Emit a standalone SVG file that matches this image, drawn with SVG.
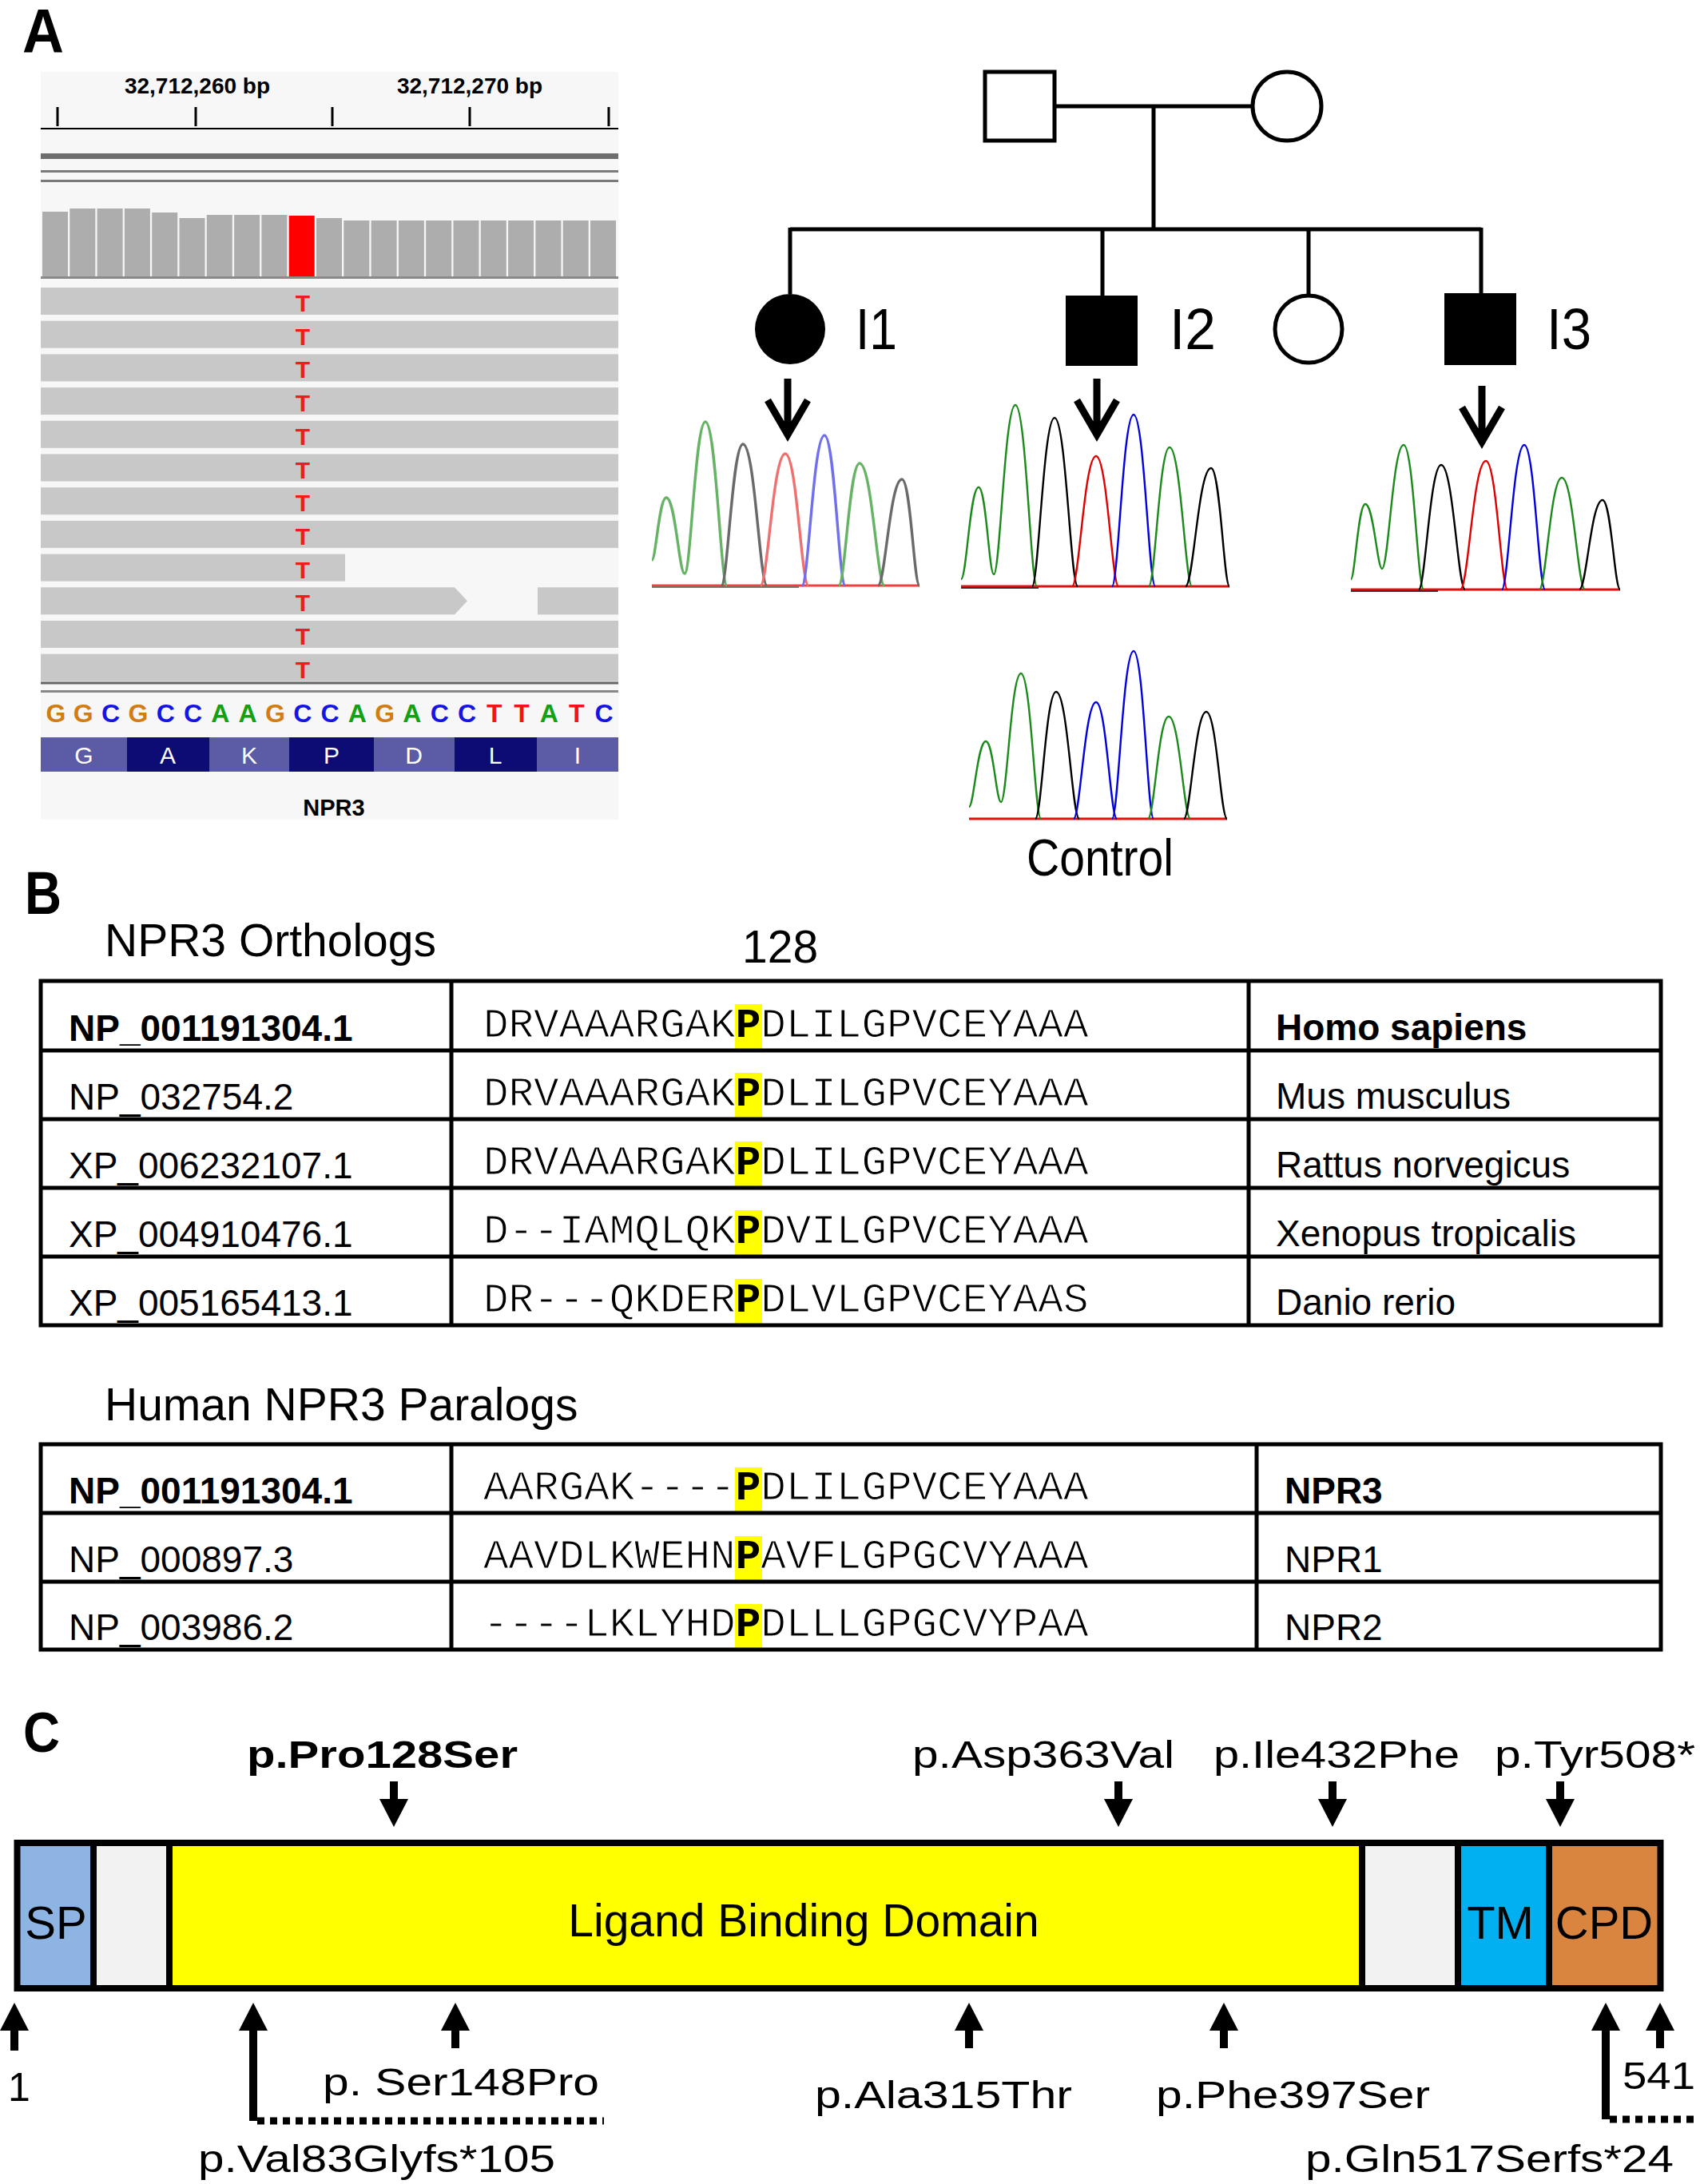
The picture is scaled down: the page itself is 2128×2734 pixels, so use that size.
<svg xmlns="http://www.w3.org/2000/svg" width="2128" height="2734" viewBox="0 0 2128 2734">
<defs>
<style>
text{font-family:"Liberation Sans",Arial,sans-serif;fill:#000}
.b{font-weight:bold}
.lbl{font-size:48px}
.seq{font-family:"Liberation Mono","Courier New",monospace;font-size:52.6px;stroke:#fff;stroke-width:1.1px}
.seq tspan{stroke:none}
.id{font-size:46px}
.tbl{fill:none;stroke:#000;stroke-width:5}
.ped{stroke:#000;stroke-width:5;fill:none}
.cov{fill:#adadad}
.rd{fill:#c8c8c8}
.tt{font-size:30px;font-weight:bold;fill:#f21a1a;text-anchor:middle}
.nt{font-size:32px;font-weight:bold;text-anchor:middle}
.aa{font-size:30px;fill:#fff;text-anchor:middle}
.g{fill:#d27d14}.c{fill:#1414e6}.a{fill:#14a014}.t{fill:#f01414}
.cg{fill:none;stroke-width:2.4;stroke-linejoin:round}
.cgL{fill:none;stroke-width:3.4;stroke-linejoin:round}
.hl{fill:#ffff00}
.dom{stroke:#000;stroke-width:8}
.shaft{stroke:#000;stroke-width:10;fill:none}
.dot{stroke:#000;stroke-width:9;stroke-dasharray:9 7;fill:none}
.parr{stroke:#000;stroke-width:9;fill:none;stroke-linejoin:miter}
</style>
<marker id="ah" markerUnits="userSpaceOnUse" markerWidth="36" markerHeight="36" refX="1" refY="18" orient="auto" viewBox="0 0 36 36"><path d="M0,0 L35,18 L0,36 z" fill="#000"/></marker>
</defs>
<rect width="2128" height="2734" fill="#fff"/>

<!-- Panel labels -->
<text class="b" x="28" y="66" font-size="78" textLength="52" lengthAdjust="spacingAndGlyphs">A</text>
<text class="b" x="31" y="1144" font-size="76" textLength="46" lengthAdjust="spacingAndGlyphs">B</text>
<text class="b" x="29" y="2193" font-size="70" textLength="46" lengthAdjust="spacingAndGlyphs">C</text>

<!-- IGV panel -->
<g id="igv">
<rect x="51" y="90" width="723" height="936" fill="#f7f7f7"/>
<text class="b" x="247" y="117" font-size="28" text-anchor="middle">32,712,260 bp</text>
<text class="b" x="588" y="117" font-size="28" text-anchor="middle">32,712,270 bp</text>
<path d="M72,134V158M245,134V158M416,134V158M588,134V158M762,134V158" stroke="#000" stroke-width="3"/>
<line x1="51" y1="161" x2="774" y2="161" stroke="#000" stroke-width="2"/>
<rect x="51" y="192" width="723" height="7" fill="#6e6e6e"/>
<rect x="51" y="213" width="723" height="3" fill="#7a7a7a"/>
<rect x="51" y="225" width="723" height="3" fill="#7a7a7a"/>
<g id="coverage">
<rect class="cov" x="53" y="265" width="32" height="82"/>
<rect class="cov" x="87.3" y="261" width="32" height="86"/>
<rect class="cov" x="121.6" y="261" width="32" height="86"/>
<rect class="cov" x="155.9" y="261" width="32" height="86"/>
<rect class="cov" x="190.2" y="266" width="32" height="81"/>
<rect class="cov" x="224.5" y="273" width="32" height="74"/>
<rect class="cov" x="258.8" y="269" width="32" height="78"/>
<rect class="cov" x="293.1" y="269" width="32" height="78"/>
<rect class="cov" x="327.4" y="269" width="32" height="78"/>
<rect x="361.7" y="270" width="32" height="77" fill="#ff0000"/>
<rect class="cov" x="396" y="273" width="32" height="74"/>
<rect class="cov" x="430.3" y="276" width="32" height="71"/>
<rect class="cov" x="464.6" y="276" width="32" height="71"/>
<rect class="cov" x="498.9" y="276" width="32" height="71"/>
<rect class="cov" x="533.2" y="276" width="32" height="71"/>
<rect class="cov" x="567.5" y="276" width="32" height="71"/>
<rect class="cov" x="601.8" y="276" width="32" height="71"/>
<rect class="cov" x="636.1" y="276" width="32" height="71"/>
<rect class="cov" x="670.4" y="276" width="32" height="71"/>
<rect class="cov" x="704.7" y="276" width="32" height="71"/>
<rect class="cov" x="739" y="276" width="32" height="71"/>
<rect x="51" y="346" width="723" height="3" fill="#8a8a8a"/>
</g>
<g id="reads">
<rect class="rd" x="51" y="360" width="723" height="34"/>
<rect class="rd" x="51" y="401.7" width="723" height="34"/>
<rect class="rd" x="51" y="443.4" width="723" height="34"/>
<rect class="rd" x="51" y="485.1" width="723" height="34"/>
<rect class="rd" x="51" y="526.8" width="723" height="34"/>
<rect class="rd" x="51" y="568.5" width="723" height="34"/>
<rect class="rd" x="51" y="610.2" width="723" height="34"/>
<rect class="rd" x="51" y="651.9" width="723" height="34"/>
<rect class="rd" x="51" y="693.6" width="381" height="34"/>
<polygon class="rd" points="51,735.3 569,735.3 585,752.3 569,769.3 51,769.3"/>
<rect class="rd" x="673" y="735.3" width="101" height="34"/>
<rect class="rd" x="51" y="777" width="723" height="34"/>
<rect class="rd" x="51" y="818.7" width="723" height="34"/>
<text class="tt" x="379" y="390">T</text>
<text class="tt" x="379" y="431.7">T</text>
<text class="tt" x="379" y="473.4">T</text>
<text class="tt" x="379" y="515.1">T</text>
<text class="tt" x="379" y="556.8">T</text>
<text class="tt" x="379" y="598.5">T</text>
<text class="tt" x="379" y="640.2">T</text>
<text class="tt" x="379" y="681.9">T</text>
<text class="tt" x="379" y="723.6">T</text>
<text class="tt" x="379" y="765.3">T</text>
<text class="tt" x="379" y="807">T</text>
<text class="tt" x="379" y="848.7">T</text>
</g>
<rect x="51" y="853.5" width="723" height="3" fill="#666"/>
<rect x="51" y="864" width="723" height="3" fill="#888"/>
<g id="refseq">
<text class="nt g" x="70" y="904">G</text>
<text class="nt g" x="104.3" y="904">G</text>
<text class="nt c" x="138.6" y="904">C</text>
<text class="nt g" x="172.9" y="904">G</text>
<text class="nt c" x="207.2" y="904">C</text>
<text class="nt c" x="241.5" y="904">C</text>
<text class="nt a" x="275.8" y="904">A</text>
<text class="nt a" x="310.1" y="904">A</text>
<text class="nt g" x="344.4" y="904">G</text>
<text class="nt c" x="378.7" y="904">C</text>
<text class="nt c" x="413" y="904">C</text>
<text class="nt a" x="447.3" y="904">A</text>
<text class="nt g" x="481.6" y="904">G</text>
<text class="nt a" x="515.9" y="904">A</text>
<text class="nt c" x="550.2" y="904">C</text>
<text class="nt c" x="584.5" y="904">C</text>
<text class="nt t" x="618.8" y="904">T</text>
<text class="nt t" x="653.1" y="904">T</text>
<text class="nt a" x="687.4" y="904">A</text>
<text class="nt t" x="721.7" y="904">T</text>
<text class="nt c" x="756" y="904">C</text>
</g>
<g id="aminoacids">
<rect x="51" y="923" width="108" height="43" fill="#5b5ba6"/>
<rect x="159" y="923" width="103" height="43" fill="#0c0c74"/>
<rect x="262" y="923" width="100" height="43" fill="#5b5ba6"/>
<rect x="362" y="923" width="106" height="43" fill="#0c0c74"/>
<rect x="468" y="923" width="101" height="43" fill="#5b5ba6"/>
<rect x="569" y="923" width="103" height="43" fill="#0c0c74"/>
<rect x="672" y="923" width="102" height="43" fill="#5b5ba6"/>
<text class="aa" x="105" y="956">G</text>
<text class="aa" x="210" y="956">A</text>
<text class="aa" x="312" y="956">K</text>
<text class="aa" x="415" y="956">P</text>
<text class="aa" x="518" y="956">D</text>
<text class="aa" x="620" y="956">L</text>
<text class="aa" x="723" y="956">I</text>
</g>
<text class="b" x="418" y="1021" font-size="29" text-anchor="middle">NPR3</text>
</g>

<!-- Pedigree -->
<g id="pedigree-lines">
<line class="ped" x1="1320" y1="133" x2="1568" y2="133"/>
<line class="ped" x1="1444" y1="133" x2="1444" y2="287"/>
<line class="ped" x1="989" y1="287" x2="1854" y2="287"/>
<line class="ped" x1="989" y1="285" x2="989" y2="368"/>
<line class="ped" x1="1380" y1="285" x2="1380" y2="370"/>
<line class="ped" x1="1638" y1="285" x2="1638" y2="369"/>
<line class="ped" x1="1854" y1="285" x2="1854" y2="367"/>
</g>
<g id="father"><rect class="ped" x="1233" y="90" width="87" height="86"/></g>
<g id="mother"><circle class="ped" cx="1611" cy="133" r="43"/></g>
<g id="I1"><circle cx="989" cy="412" r="44" fill="#000"/><text x="1071" y="437" font-size="72" textLength="52" lengthAdjust="spacingAndGlyphs">I1</text></g>
<g id="I2"><rect x="1334" y="370" width="90" height="88" fill="#000"/><text x="1464" y="437" font-size="72" textLength="58" lengthAdjust="spacingAndGlyphs">I2</text></g>
<g id="sister"><circle class="ped" cx="1638" cy="412" r="42"/></g>
<g id="I3"><rect x="1808" y="367" width="90" height="90" fill="#000"/><text x="1936" y="437" font-size="72" textLength="56" lengthAdjust="spacingAndGlyphs">I3</text></g>
<g id="pedigree-arrows">
<path class="parr" d="M986,474V541M961,501L986,544L1011,501"/>
<path class="parr" d="M1373,474V541M1348,501L1373,544L1398,501"/>
<path class="parr" d="M1855,483V550M1830,510L1855,553L1880,510"/>
</g>

<!-- Chromatograms -->
<g id="chrom-I1">
<line x1="816" y1="733" x2="1151" y2="733" stroke="#f04040" stroke-width="3"/>
<line x1="816" y1="735" x2="1000" y2="735" stroke="#555" stroke-width="1.5"/>
<path class="cgL" stroke="#66b366" d="M816,701C821,701 825,623 834,623C845.5,623 850,718 857,718C865,718 870,528 883,528C896.5,528 902,733 910,733"/>
<path class="cgL" stroke="#6a6a6a" d="M903,733C911,733 916.5,556 930,556C945,556 951,733 960,733"/>
<path class="cgL" stroke="#f07070" d="M952,733C961,733 967.5,568 983,568C997.5,568 1003,733 1012,733"/>
<path class="cgL" stroke="#7070ee" d="M1004,733C1012,733 1018,545 1032,545C1045,545 1050,733 1058,733"/>
<path class="cgL" stroke="#66b366" d="M1050,733C1058,733 1063,580 1076,580C1091.5,580 1098,733 1107,733"/>
<path class="cgL" stroke="#6a6a6a" d="M1099,733C1108,733 1114,600 1129,600C1140,600 1144,733 1151,733"/>
</g>
<g id="chrom-I2">
<line x1="1203" y1="734" x2="1539" y2="734" stroke="#e01010" stroke-width="3"/>
<line x1="1203" y1="736" x2="1300" y2="736" stroke="#000" stroke-width="1.5"/>
<path class="cg" stroke="#1a8a1a" d="M1203,725C1210,725 1214,610 1225,610C1234.5,610 1238,719 1244,719C1252,719 1257.5,507 1271,507C1284.5,507 1290,734 1298,734"/>
<path class="cg" stroke="#000" d="M1292,734C1300,734 1306,523 1320,523C1334.5,523 1340,734 1349,734"/>
<path class="cg" stroke="#e00000" d="M1342,734C1351,734 1357,571 1372,571C1386,571 1392,734 1400,734"/>
<path class="cg" stroke="#0000e0" d="M1392,734C1400,734 1405.5,519 1419,519C1432.5,519 1438,734 1446,734"/>
<path class="cg" stroke="#1a8a1a" d="M1438,734C1446,734 1451,560 1464,560C1478,560 1484,734 1492,734"/>
<path class="cg" stroke="#000" d="M1484,734C1494,734 1500,586 1516,586C1527.5,586 1532,734 1539,734"/>
</g>
<g id="chrom-I3">
<line x1="1691" y1="738" x2="2028" y2="738" stroke="#e01010" stroke-width="3"/>
<line x1="1691" y1="740" x2="1800" y2="740" stroke="#000" stroke-width="1.5"/>
<path class="cg" stroke="#1a8a1a" d="M1691,725C1696,725 1700,631 1709,631C1719.5,631 1724,712 1730,712C1738,712 1743.5,557 1757,557C1769.5,557 1774.5,738 1782,738"/>
<path class="cg" stroke="#000" d="M1776,738C1784,738 1790,582 1804,582C1819,582 1825,738 1834,738"/>
<path class="cg" stroke="#e00000" d="M1828,738C1838,738 1844,577 1860,577C1873.5,577 1879,738 1887,738"/>
<path class="cg" stroke="#0000e0" d="M1880,738C1888,738 1894,557 1908,557C1921,557 1926,738 1934,738"/>
<path class="cg" stroke="#1a8a1a" d="M1927,738C1935,738 1941,598 1955,598C1969.5,598 1975,738 1984,738"/>
<path class="cg" stroke="#000" d="M1977,738C1986,738 1991.5,626 2006,626C2017,626 2021,738 2028,738"/>
</g>
<g id="chrom-control">
<line x1="1213" y1="1025" x2="1536" y2="1025" stroke="#e01010" stroke-width="3"/>
<path class="cg" stroke="#1a8a1a" d="M1213,1010C1219,1010 1223.5,928 1234,928C1243.5,928 1247,1004 1253,1004C1260.5,1004 1265.5,843 1278,843C1290.5,843 1295.5,1025 1303,1025"/>
<path class="cg" stroke="#000" d="M1296,1025C1304,1025 1309,866 1322,866C1336.5,866 1342,1025 1351,1025"/>
<path class="cg" stroke="#0000e0" d="M1344,1025C1352,1025 1358,879 1372,879C1385,879 1390,1025 1398,1025"/>
<path class="cg" stroke="#0000e0" d="M1392,1025C1400,1025 1405.5,815 1419,815C1431.5,815 1436.5,1025 1444,1025"/>
<path class="cg" stroke="#1a8a1a" d="M1437,1025C1445,1025 1450,897 1463,897C1476.5,897 1482,1025 1490,1025"/>
<path class="cg" stroke="#000" d="M1482,1025C1490,1025 1496,891 1510,891C1523,891 1528,1025 1536,1025"/>
<text x="1285" y="1096" font-size="64" textLength="184" lengthAdjust="spacingAndGlyphs">Control</text>
</g>

<!-- Section B: orthologs -->
<text x="131" y="1197" font-size="57">NPR3 Orthologs</text>
<text x="929" y="1205" font-size="57">128</text>
<g id="orthologs">
<rect class="hl" x="920" y="1257" width="34" height="56"/>
<rect class="hl" x="920" y="1343" width="34" height="56"/>
<rect class="hl" x="920" y="1429" width="34" height="56"/>
<rect class="hl" x="920" y="1515" width="34" height="56"/>
<rect class="hl" x="920" y="1601" width="34" height="56"/>
<rect class="tbl" x="51" y="1228" width="2028" height="431"/>
<path class="tbl" d="M51,1315H2079M51,1401H2079M51,1487H2079M51,1573H2079M565,1228V1659M1563,1228V1659"/>
<text class="id b" x="86" y="1303">NP_001191304.1</text>
<text class="id" x="86" y="1389">NP_032754.2</text>
<text class="id" x="86" y="1475">XP_006232107.1</text>
<text class="id" x="86" y="1561">XP_004910476.1</text>
<text class="id" x="86" y="1647">XP_005165413.1</text>
<text class="seq" x="605" y="1298">DRVAAARGAK<tspan font-weight="bold">P</tspan>DLILGPVCEYAAA</text>
<text class="seq" x="605" y="1384">DRVAAARGAK<tspan font-weight="bold">P</tspan>DLILGPVCEYAAA</text>
<text class="seq" x="605" y="1470">DRVAAARGAK<tspan font-weight="bold">P</tspan>DLILGPVCEYAAA</text>
<text class="seq" x="605" y="1556">D--IAMQLQK<tspan font-weight="bold">P</tspan>DVILGPVCEYAAA</text>
<text class="seq" x="605" y="1642">DR---QKDER<tspan font-weight="bold">P</tspan>DLVLGPVCEYAAS</text>
<text class="id b" x="1597" y="1302">Homo sapiens</text>
<text class="id" x="1597" y="1388">Mus musculus</text>
<text class="id" x="1597" y="1474">Rattus norvegicus</text>
<text class="id" x="1597" y="1560">Xenopus tropicalis</text>
<text class="id" x="1597" y="1646">Danio rerio</text>
</g>

<!-- Section B: paralogs -->
<text x="131" y="1778" font-size="57">Human NPR3 Paralogs</text>
<g id="paralogs">
<rect class="hl" x="920" y="1837" width="34" height="55"/>
<rect class="hl" x="920" y="1923" width="34" height="55"/>
<rect class="hl" x="920" y="2008" width="34" height="55"/>
<rect class="tbl" x="51" y="1808" width="2028" height="257"/>
<path class="tbl" d="M51,1894H2079M51,1980H2079M565,1808V2065M1573,1808V2065"/>
<text class="id b" x="86" y="1882">NP_001191304.1</text>
<text class="id" x="86" y="1968">NP_000897.3</text>
<text class="id" x="86" y="2053">NP_003986.2</text>
<text class="seq" x="605" y="1877">AARGAK----<tspan font-weight="bold">P</tspan>DLILGPVCEYAAA</text>
<text class="seq" x="605" y="1963">AAVDLKWEHN<tspan font-weight="bold">P</tspan>AVFLGPGCVYAAA</text>
<text class="seq" x="605" y="2048">----LKLYHD<tspan font-weight="bold">P</tspan>DLLLGPGCVYPAA</text>
<text class="id b" x="1608" y="1882">NPR3</text>
<text class="id" x="1608" y="1968">NPR1</text>
<text class="id" x="1608" y="2053">NPR2</text>
</g>

<!-- Section C: protein domains -->
<g id="protein">
<rect x="21" y="2307" width="96" height="182" fill="#8db4e2"/>
<rect x="117" y="2307" width="95" height="182" fill="#f2f2f2"/>
<rect x="212" y="2307" width="1493" height="182" fill="#ffff00"/>
<rect x="1705" y="2307" width="120" height="182" fill="#f2f2f2"/>
<rect x="1825" y="2307" width="114" height="182" fill="#00b0f0"/>
<rect x="1939" y="2307" width="140" height="182" fill="#d9853f"/>
<rect x="21.5" y="2307" width="2057" height="182" fill="none" stroke="#000" stroke-width="8"/>
<path class="dom" d="M117,2307V2489M212,2307V2489M1705,2307V2489M1825,2307V2489M1939,2307V2489"/>
<text x="70" y="2427" font-size="58" text-anchor="middle">SP</text>
<text x="1006" y="2424" font-size="57" text-anchor="middle">Ligand Binding Domain</text>
<text x="1878" y="2427" font-size="58" text-anchor="middle">TM</text>
<text x="2008" y="2427" font-size="58" text-anchor="middle">CPD</text>
</g>
<g id="variant-labels">
<text class="lbl b" x="309" y="2213" textLength="339" lengthAdjust="spacingAndGlyphs">p.Pro128Ser</text>
<text class="lbl" x="1142" y="2213" textLength="328" lengthAdjust="spacingAndGlyphs">p.Asp363Val</text>
<text class="lbl" x="1519" y="2213" textLength="308" lengthAdjust="spacingAndGlyphs">p.Ile432Phe</text>
<text class="lbl" x="1871" y="2213" textLength="251" lengthAdjust="spacingAndGlyphs">p.Tyr508*</text>
<text x="10" y="2630" font-size="50">1</text>
<text class="lbl" x="404" y="2623" textLength="346" lengthAdjust="spacingAndGlyphs">p. Ser148Pro</text>
<text class="lbl" x="248" y="2719" textLength="447" lengthAdjust="spacingAndGlyphs">p.Val83Glyfs*105</text>
<text class="lbl" x="1020" y="2639" textLength="322" lengthAdjust="spacingAndGlyphs">p.Ala315Thr</text>
<text class="lbl" x="1447" y="2639" textLength="343" lengthAdjust="spacingAndGlyphs">p.Phe397Ser</text>
<text class="lbl" x="2031" y="2615" textLength="91" lengthAdjust="spacingAndGlyphs">541</text>
<text class="lbl" x="1634" y="2719" textLength="461" lengthAdjust="spacingAndGlyphs">p.Gln517Serfs*24</text>
</g>
<g id="connectors">
<line class="shaft" x1="493" y1="2230" x2="493" y2="2253" marker-end="url(#ah)"/>
<line class="shaft" x1="1400" y1="2230" x2="1400" y2="2253" marker-end="url(#ah)"/>
<line class="shaft" x1="1668" y1="2230" x2="1668" y2="2253" marker-end="url(#ah)"/>
<line class="shaft" x1="1953" y1="2230" x2="1953" y2="2253" marker-end="url(#ah)"/>
<line class="shaft" x1="18" y1="2567" x2="18" y2="2541" marker-end="url(#ah)"/>
<line class="shaft" x1="317" y1="2655" x2="317" y2="2541" marker-end="url(#ah)"/>
<line class="shaft" x1="570" y1="2564" x2="570" y2="2541" marker-end="url(#ah)"/>
<line class="shaft" x1="1213" y1="2564" x2="1213" y2="2541" marker-end="url(#ah)"/>
<line class="shaft" x1="1532" y1="2564" x2="1532" y2="2541" marker-end="url(#ah)"/>
<line class="shaft" x1="2010" y1="2653" x2="2010" y2="2541" marker-end="url(#ah)"/>
<line class="shaft" x1="2078" y1="2564" x2="2078" y2="2541" marker-end="url(#ah)"/>
<line class="dot" x1="322" y1="2655" x2="756" y2="2655"/>
<line class="dot" x1="2015" y1="2653" x2="2122" y2="2653"/>
</g>
</svg>
